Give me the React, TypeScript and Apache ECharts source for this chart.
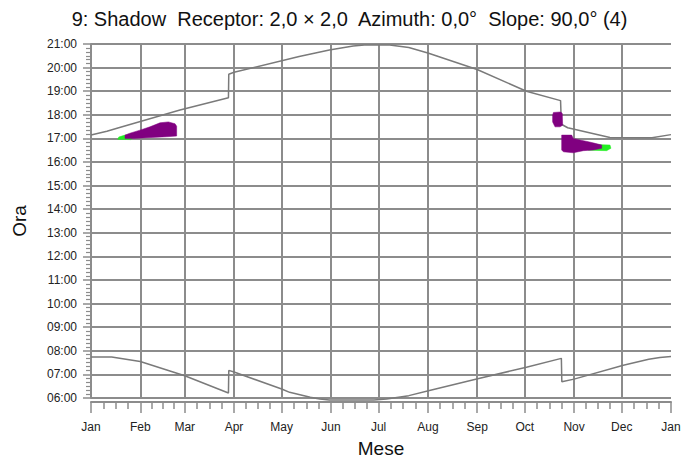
import React, { useEffect, useRef } from "react";
import * as echarts from "echarts";

const FONT = "'Liberation Sans', Arial, sans-serif";
const TITLE = "9: Shadow  Receptor: 2,0 \u00d7 2,0  Azimuth: 0,0\u00b0  Slope: 90,0\u00b0 (4)";
const MONTHS = ["Jan", "Feb", "Mar", "Apr", "May", "Jun", "Jul", "Aug", "Sep", "Oct", "Nov", "Dec"];
const X_NAME = "Mese";
const Y_NAME = "Ora";

// [day of year, hour]
const sunset: number[][] = [
  [0, 17.14], [10, 17.3], [18, 17.46], [56, 18.2], [86.5, 18.72], [86.7, 19.72], [90, 19.8],
  [131, 20.47], [150, 20.75], [165, 20.92], [172, 20.96], [188, 20.96], [200, 20.85],
  [212, 20.62], [243, 19.92], [274, 19.0], [295.5, 18.6], [296, 17.6], [300, 17.45],
  [326.6, 17.04], [353, 17.03], [365, 17.16],
];
const sunrise: number[][] = [
  [0, 7.74], [13, 7.74], [31, 7.55], [59, 6.94], [86.5, 6.21], [86.7, 7.17], [90, 7.1],
  [120, 6.38], [125, 6.24], [138, 6.03], [144, 5.96], [150, 5.92], [178, 5.92], [186, 5.96],
  [200, 6.1], [213, 6.32], [244, 6.83], [274, 7.3], [296, 7.68], [296.3, 6.69], [304, 6.8],
  [335, 7.39], [351, 7.64], [358, 7.72], [365, 7.76],
];
const febGreen: number[][] = [
  [16.8, 16.96], [17.5, 17.06], [21.4, 17.14], [24.5, 17.12], [26, 17.0], [25, 16.95],
];
const febPurple: number[][] = [
  [21.4, 17.0], [21.4, 17.14], [24.5, 17.22], [30.8, 17.35], [37.1, 17.49], [43.4, 17.66],
  [48.7, 17.7], [52.9, 17.62], [53.9, 17.52], [53.9, 17.1], [47.6, 17.07], [26.6, 17.0],
];
const novPurpleUpper: number[][] = [
  [291, 18.1], [295.6, 18.12], [296.6, 18.05], [296.8, 17.56], [295.2, 17.49], [292, 17.49],
  [290.5, 17.7], [290.5, 17.98],
];
const novGreen: number[][] = [
  [313, 16.75], [326.6, 16.72], [327.2, 16.58], [324.5, 16.48], [313, 16.5],
];
const novPurpleLower: number[][] = [
  [296.2, 17.14], [302.5, 17.14], [303.5, 17.0], [307.7, 16.93], [313, 16.86], [317.2, 16.79],
  [321.4, 16.72], [321.4, 16.58], [316.1, 16.51], [309.8, 16.48], [303.5, 16.39], [297.3, 16.43],
  [296.2, 16.51],
];

const START = new Date(2023, 0, 1).getTime();
const END = new Date(2024, 0, 1).getTime();
const DAY = 86400000;
const toTime = (arr: number[][]) => arr.map(([d, h]) => [START + d * DAY, h]);

// minor ticks: 4 divisions in each month
const minorTicks: number[] = [];
for (let m = 0; m < 12; m++) {
  const a = new Date(2023, m, 1).getTime();
  const b = new Date(2023, m + 1, 1).getTime();
  for (let k = 1; k < 4; k++) minorTicks.push(a + ((b - a) * k) / 4);
}

const GRID_COLOR = "#8c8c8c";
const CURVE_COLOR = "#7a7a7a";

function polySeries(arr: number[][], color: string, z: number) {
  const data = toTime(arr);
  return {
    type: "custom",
    coordinateSystem: "cartesian2d",
    z,
    silent: true,
    data,
    encode: { x: 0, y: 1 },
    renderItem: (params: any, api: any) => {
      if (params.dataIndex !== 0) return null;
      return {
        type: "polygon",
        shape: { points: data.map((p) => api.coord(p)) },
        style: { fill: color, stroke: color, lineWidth: 0.5 },
      };
    },
  };
}

export default function App() {
  const ref = useRef<HTMLDivElement>(null);
  useEffect(() => {
    if (!ref.current) return;
    const chart = echarts.init(ref.current, undefined, { renderer: "svg" });
    const lineStyle = { color: GRID_COLOR, width: 2 };
    chart.setOption({
      animation: false,
      title: {
        text: TITLE,
        left: "center",
        top: 4,
        textStyle: { fontFamily: FONT, fontSize: 20, fontWeight: "normal", color: "#111" },
      },
      grid: { left: 91, right: 28, top: 44, bottom: 64, containLabel: false },
      xAxis: [
        {
          type: "time",
          min: START,
          max: END,
          offset: 4,
          splitNumber: 12,
          minInterval: 28 * DAY,
          maxInterval: 31 * DAY,
          name: X_NAME,
          nameLocation: "middle",
          nameGap: 37,
          nameTextStyle: { fontFamily: FONT, fontSize: 19, color: "#111" },
          axisLine: { lineStyle },
          axisTick: { length: 11, lineStyle: { color: GRID_COLOR, width: 1.5 } },
          axisLabel: {
            formatter: (v: number) => MONTHS[new Date(v).getMonth()],
            margin: 19,
            color: "#222",
            fontSize: 12,
            fontFamily: FONT,
            showMinLabel: true,
            showMaxLabel: true,
            hideOverlap: false,
          },
          splitLine: { show: true, lineStyle, showMaxLine: false },
        },
        {
          type: "value",
          min: START,
          max: END,
          position: "bottom",
          offset: 4,
          axisLine: { show: false },
          axisLabel: { show: false },
          splitLine: { show: false },
          axisTick: {
            show: true,
            customValues: minorTicks,
            length: 7,
            lineStyle: { color: GRID_COLOR, width: 1.5 },
          },
        },
      ],
      yAxis: {
        type: "value",
        min: 6,
        max: 21,
        interval: 1,
        name: Y_NAME,
        nameLocation: "middle",
        nameGap: 62,
        nameRotate: 90,
        nameTextStyle: { fontFamily: FONT, fontSize: 19, color: "#111" },
        axisLine: { show: true, lineStyle },
        axisTick: { show: true, length: 8, lineStyle: { color: GRID_COLOR, width: 1.5 } },
        minorTick: { show: true, splitNumber: 6, length: 5, lineStyle: { color: GRID_COLOR, width: 1.2 } },
        axisLabel: {
          formatter: (v: number) => (v < 10 ? "0" : "") + v + ":00",
          margin: 14,
          color: "#222",
          fontSize: 12,
          fontFamily: FONT,
        },
        splitLine: { show: true, lineStyle },
      },
      series: [
        {
          type: "line",
          data: toTime(sunset),
          showSymbol: false,
          clip: false,
          lineStyle: { color: CURVE_COLOR, width: 1.5 },
          z: 3,
        },
        {
          type: "line",
          data: toTime(sunrise),
          showSymbol: false,
          clip: false,
          lineStyle: { color: CURVE_COLOR, width: 1.5 },
          z: 3,
        },
        polySeries(febGreen, "#22ee22", 4),
        polySeries(febPurple, "#800080", 5),
        polySeries(novGreen, "#22ee22", 4),
        polySeries(novPurpleLower, "#800080", 5),
        polySeries(novPurpleUpper, "#800080", 5),
      ],
    });
    return () => chart.dispose();
  }, []);
  return (
    <div
      ref={ref}
      style={{ position: "absolute", left: 0, top: 0, width: 699, height: 463 }}
    />
  );
}
